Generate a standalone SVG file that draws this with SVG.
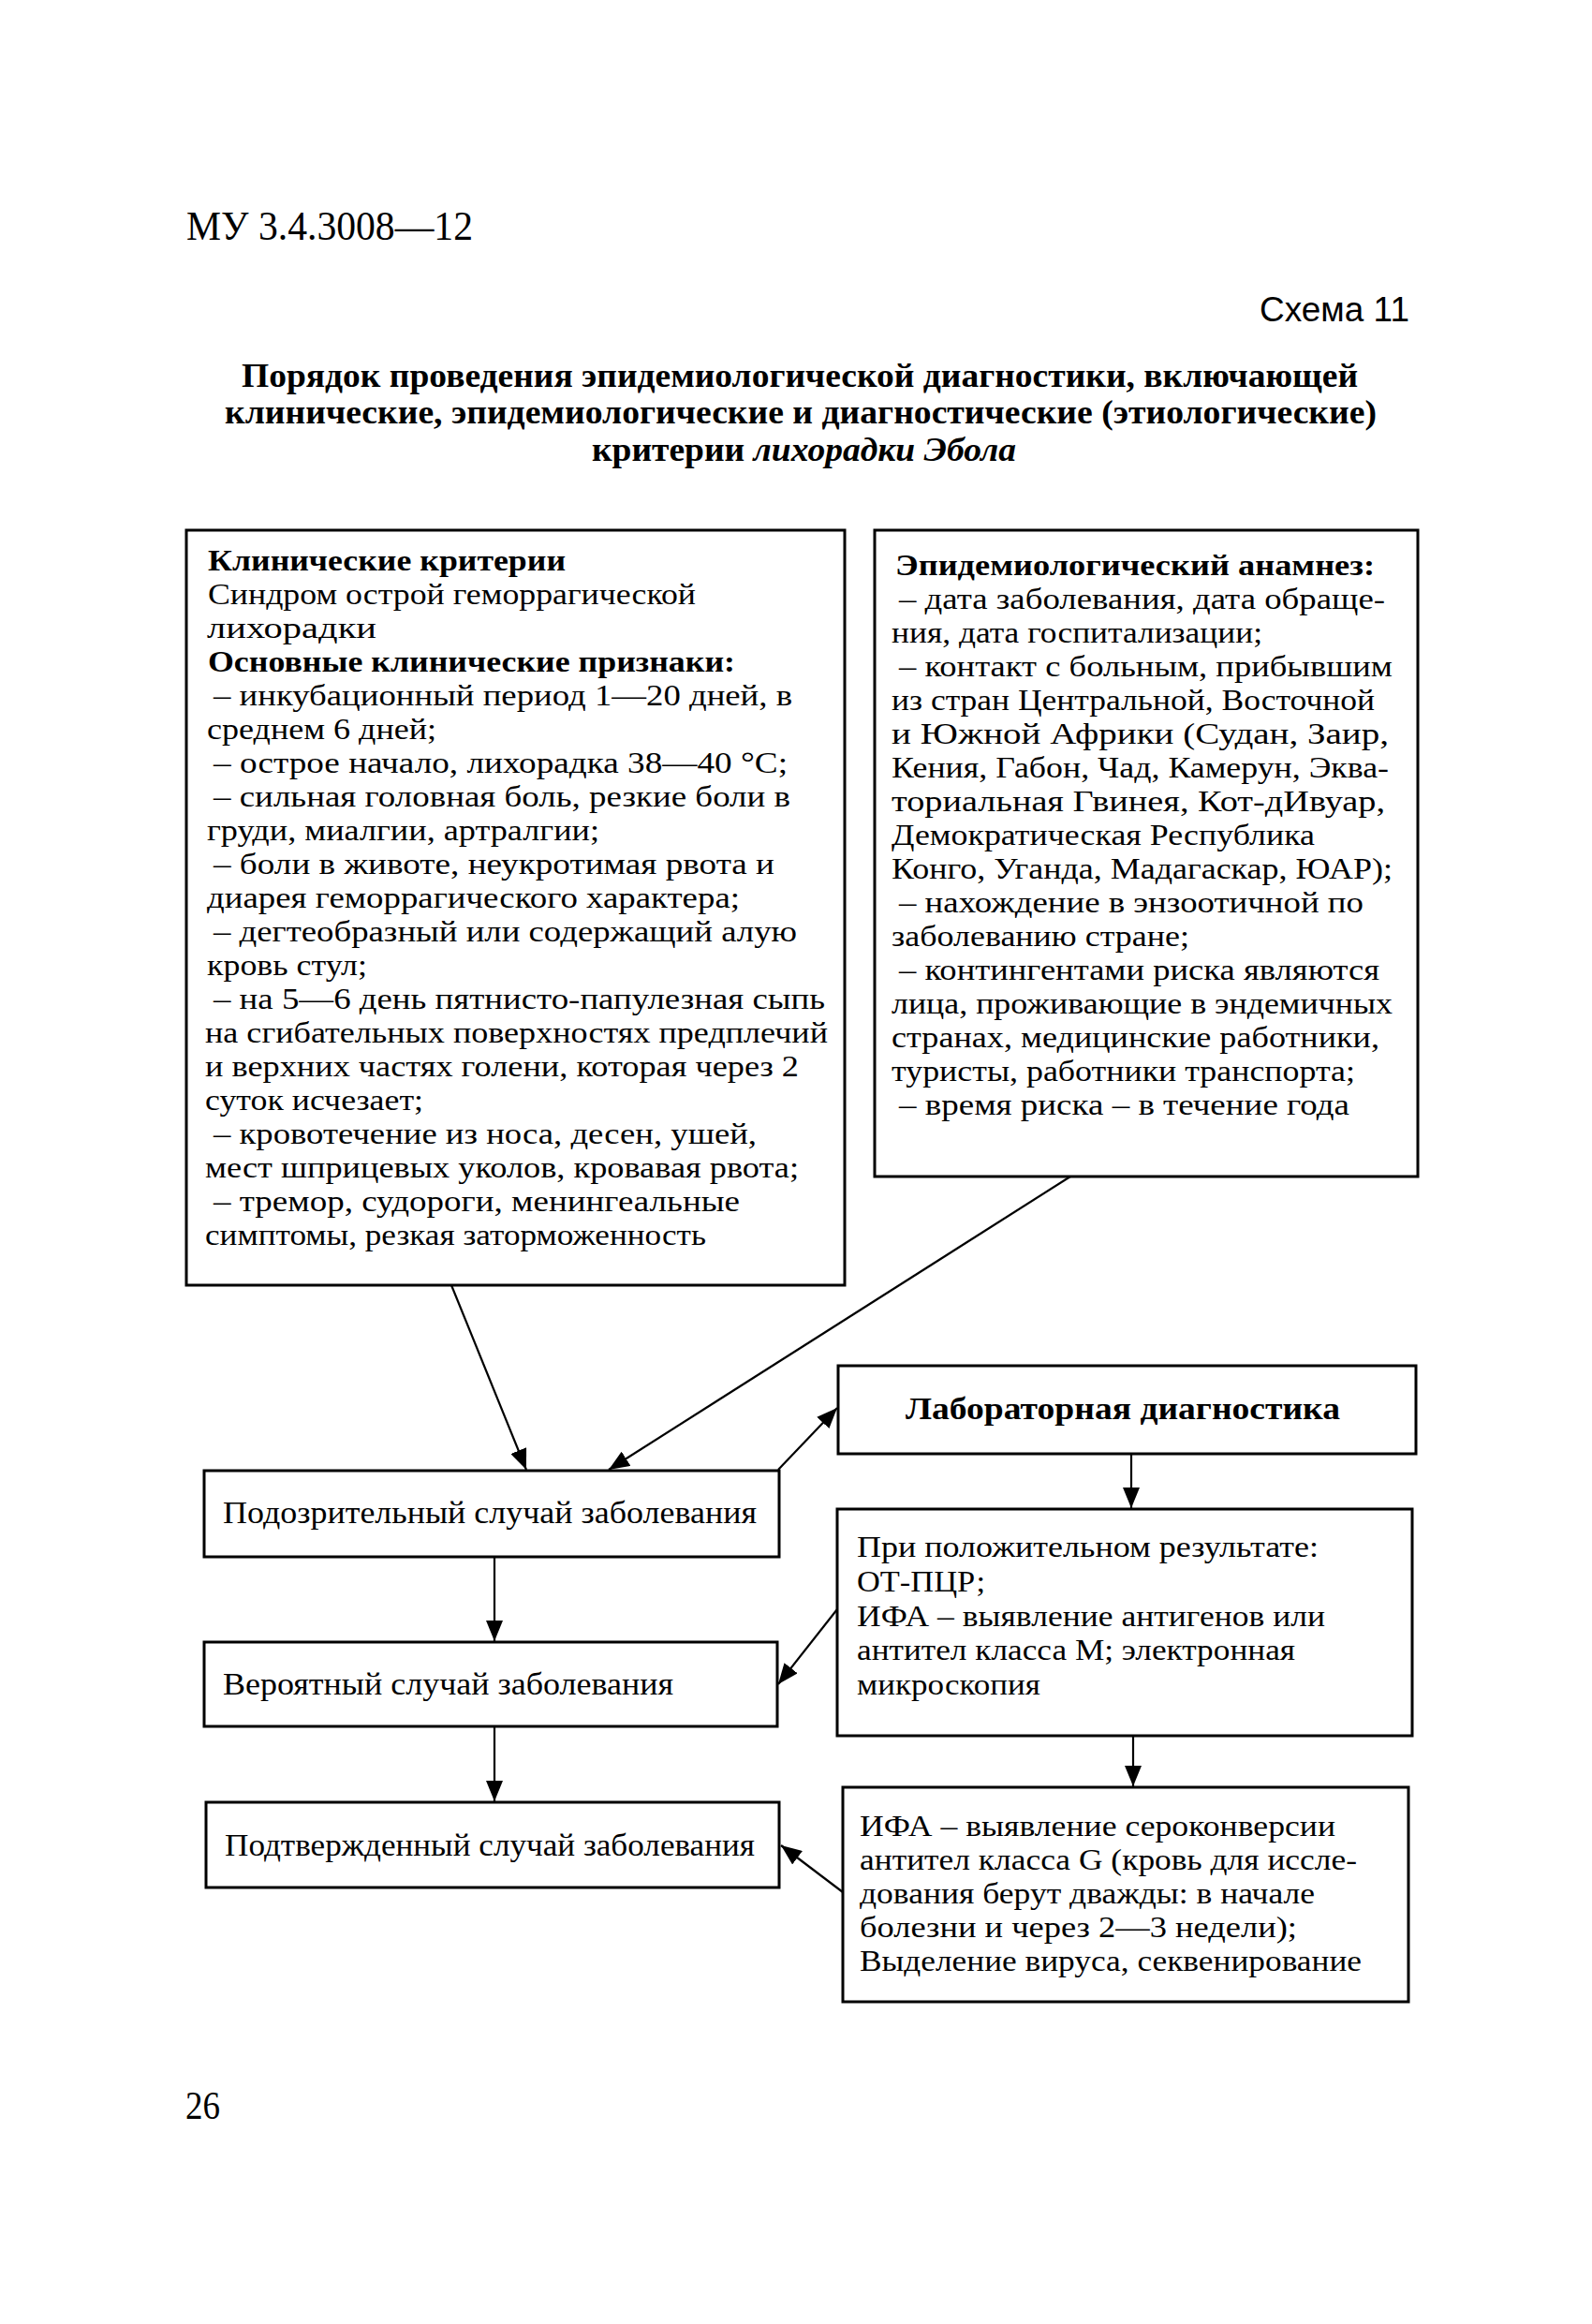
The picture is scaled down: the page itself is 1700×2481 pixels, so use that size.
<svg xmlns="http://www.w3.org/2000/svg" width="1700" height="2481" viewBox="0 0 1700 2481">
<style>
.bg{fill:#fff}
.box{fill:none;stroke:#000;stroke-width:3}
.t{font-family:"Liberation Serif","Times New Roman",serif;font-size:32px;fill:#000}
.b{font-weight:bold}
.s{font-family:"Liberation Sans",Arial,sans-serif;font-size:37px;fill:#000}
.c{fill:none;stroke:#000;stroke-width:2.2}
</style>
<defs>
<marker id="ah" viewBox="0 0 22 18" refX="22" refY="9" markerWidth="22" markerHeight="18" orient="auto" markerUnits="userSpaceOnUse"><path d="M0,0 L22,9 L0,18 z" fill="#000"/></marker>
</defs>
<rect class="bg" x="0" y="0" width="1700" height="2481"/>
<g id="header">
<text class="t" x="199" y="256" style="font-size:44px" textLength="306" lengthAdjust="spacingAndGlyphs">МУ 3.4.3008—12</text>
<text class="s" x="1345" y="343" textLength="160" lengthAdjust="spacingAndGlyphs">Схема 11</text>
<text class="t b" x="258" y="413" style="font-size:36px" textLength="1192" lengthAdjust="spacingAndGlyphs">Порядок проведения эпидемиологической диагностики, включающей</text>
<text class="t b" x="240" y="452" style="font-size:36px" textLength="1230" lengthAdjust="spacingAndGlyphs">клинические, эпидемиологические и диагностические (этиологические)</text>
<text class="t b" x="632" y="492" style="font-size:36px" textLength="453" lengthAdjust="spacingAndGlyphs">критерии <tspan font-style="italic">лихорадки Эбола</tspan></text>
<text class="t" x="198" y="2262" style="font-size:42px" textLength="37" lengthAdjust="spacingAndGlyphs">26</text>
</g>
<g id="clinical">
<rect class="box" x="199" y="566" width="703" height="806"/>
<text class="t b" x="222" y="609" textLength="382" lengthAdjust="spacingAndGlyphs">Клинические критерии</text>
<text class="t" x="222" y="645" textLength="521" lengthAdjust="spacingAndGlyphs">Синдром острой геморрагической</text>
<text class="t" x="221" y="681" textLength="181" lengthAdjust="spacingAndGlyphs">лихорадки</text>
<text class="t b" x="222" y="717" textLength="563" lengthAdjust="spacingAndGlyphs">Основные клинические признаки:</text>
<text class="t" x="228" y="753" textLength="618" lengthAdjust="spacingAndGlyphs">– инкубационный период 1—20 дней, в</text>
<text class="t" x="221" y="789" textLength="245" lengthAdjust="spacingAndGlyphs">среднем 6 дней;</text>
<text class="t" x="228" y="825" textLength="613" lengthAdjust="spacingAndGlyphs">– острое начало, лихорадка 38—40 °С;</text>
<text class="t" x="228" y="861" textLength="616" lengthAdjust="spacingAndGlyphs">– сильная головная боль, резкие боли в</text>
<text class="t" x="221" y="897" textLength="419" lengthAdjust="spacingAndGlyphs">груди, миалгии, артралгии;</text>
<text class="t" x="228" y="933" textLength="599" lengthAdjust="spacingAndGlyphs">– боли в животе, неукротимая рвота и</text>
<text class="t" x="221" y="969" textLength="569" lengthAdjust="spacingAndGlyphs">диарея геморрагического характера;</text>
<text class="t" x="228" y="1005" textLength="623" lengthAdjust="spacingAndGlyphs">– дегтеобразный или содержащий алую</text>
<text class="t" x="221" y="1041" textLength="171" lengthAdjust="spacingAndGlyphs">кровь стул;</text>
<text class="t" x="228" y="1077" textLength="653" lengthAdjust="spacingAndGlyphs">– на 5—6 день пятнисто-папулезная сыпь</text>
<text class="t" x="219" y="1113" textLength="665" lengthAdjust="spacingAndGlyphs">на сгибательных поверхностях предплечий</text>
<text class="t" x="219" y="1149" textLength="634" lengthAdjust="spacingAndGlyphs">и верхних частях голени, которая через 2</text>
<text class="t" x="219" y="1185" textLength="233" lengthAdjust="spacingAndGlyphs">суток исчезает;</text>
<text class="t" x="228" y="1221" textLength="580" lengthAdjust="spacingAndGlyphs">– кровотечение из носа, десен, ушей,</text>
<text class="t" x="219" y="1257" textLength="634" lengthAdjust="spacingAndGlyphs">мест шприцевых уколов, кровавая рвота;</text>
<text class="t" x="228" y="1293" textLength="562" lengthAdjust="spacingAndGlyphs">– тремор, судороги, менингеальные</text>
<text class="t" x="219" y="1329" textLength="535" lengthAdjust="spacingAndGlyphs">симптомы, резкая заторможенность</text>
</g>
<g id="epid">
<rect class="box" x="934" y="566" width="580" height="690"/>
<text class="t b" x="956" y="614" textLength="512" lengthAdjust="spacingAndGlyphs">Эпидемиологический анамнез:</text>
<text class="t" x="960" y="650" textLength="519" lengthAdjust="spacingAndGlyphs">– дата заболевания, дата обраще-</text>
<text class="t" x="952" y="686" textLength="396" lengthAdjust="spacingAndGlyphs">ния, дата госпитализации;</text>
<text class="t" x="960" y="722" textLength="527" lengthAdjust="spacingAndGlyphs">– контакт с больным, прибывшим</text>
<text class="t" x="952" y="758" textLength="516" lengthAdjust="spacingAndGlyphs">из стран Центральной, Восточной</text>
<text class="t" x="952" y="794" textLength="531" lengthAdjust="spacingAndGlyphs">и Южной Африки (Судан, Заир,</text>
<text class="t" x="952" y="830" textLength="531" lengthAdjust="spacingAndGlyphs">Кения, Габон, Чад, Камерун, Эква-</text>
<text class="t" x="952" y="866" textLength="527" lengthAdjust="spacingAndGlyphs">ториальная Гвинея, Кот-дИвуар,</text>
<text class="t" x="952" y="902" textLength="452" lengthAdjust="spacingAndGlyphs">Демократическая Республика</text>
<text class="t" x="952" y="938" textLength="535" lengthAdjust="spacingAndGlyphs">Конго, Уганда, Мадагаскар, ЮАР);</text>
<text class="t" x="960" y="974" textLength="496" lengthAdjust="spacingAndGlyphs">– нахождение в энзоотичной по</text>
<text class="t" x="952" y="1010" textLength="318" lengthAdjust="spacingAndGlyphs">заболеванию стране;</text>
<text class="t" x="960" y="1046" textLength="513" lengthAdjust="spacingAndGlyphs">– контингентами риска являются</text>
<text class="t" x="952" y="1082" textLength="535" lengthAdjust="spacingAndGlyphs">лица, проживающие в эндемичных</text>
<text class="t" x="952" y="1118" textLength="521" lengthAdjust="spacingAndGlyphs">странах, медицинские работники,</text>
<text class="t" x="952" y="1154" textLength="495" lengthAdjust="spacingAndGlyphs">туристы, работники транспорта;</text>
<text class="t" x="960" y="1190" textLength="481" lengthAdjust="spacingAndGlyphs">– время риска – в течение года</text>
</g>
<g id="suspect">
<rect class="box" x="218" y="1570" width="614" height="92"/>
<text class="t" x="238" y="1626" style="font-size:34px" textLength="570" lengthAdjust="spacingAndGlyphs">Подозрительный случай заболевания</text>
</g>
<g id="probable">
<rect class="box" x="218" y="1753" width="612" height="90"/>
<text class="t" x="238" y="1809" style="font-size:34px" textLength="481" lengthAdjust="spacingAndGlyphs">Вероятный случай заболевания</text>
</g>
<g id="confirmed">
<rect class="box" x="220" y="1924" width="612" height="91"/>
<text class="t" x="240" y="1981" style="font-size:34px" textLength="566" lengthAdjust="spacingAndGlyphs">Подтвержденный случай заболевания</text>
</g>
<g id="lab">
<rect class="box" x="895" y="1458" width="617" height="94"/>
<text class="t b" x="967" y="1515" style="font-size:34px" textLength="464" lengthAdjust="spacingAndGlyphs">Лабораторная диагностика</text>
</g>
<g id="lab-positive">
<rect class="box" x="894" y="1611" width="614" height="242"/>
<text class="t" x="915" y="1662" textLength="493" lengthAdjust="spacingAndGlyphs">При положительном результате:</text>
<text class="t" x="915" y="1699" textLength="137" lengthAdjust="spacingAndGlyphs">ОТ-ПЦР;</text>
<text class="t" x="915" y="1736" textLength="500" lengthAdjust="spacingAndGlyphs">ИФА – выявление антигенов или</text>
<text class="t" x="915" y="1772" textLength="468" lengthAdjust="spacingAndGlyphs">антител класса М; электронная</text>
<text class="t" x="915" y="1809" textLength="196" lengthAdjust="spacingAndGlyphs">микроскопия</text>
</g>
<g id="lab-sero">
<rect class="box" x="900" y="1908" width="604" height="229"/>
<text class="t" x="918" y="1960" textLength="508" lengthAdjust="spacingAndGlyphs">ИФА – выявление сероконверсии</text>
<text class="t" x="918" y="1996" textLength="531" lengthAdjust="spacingAndGlyphs">антител класса G (кровь для иссле-</text>
<text class="t" x="918" y="2032" textLength="486" lengthAdjust="spacingAndGlyphs">дования берут дважды: в начале</text>
<text class="t" x="918" y="2068" textLength="467" lengthAdjust="spacingAndGlyphs">болезни и через 2—3 недели);</text>
<text class="t" x="918" y="2104" textLength="536" lengthAdjust="spacingAndGlyphs">Выделение вируса, секвенирование</text>
</g>
<g id="connectors">
<line class="c" x1="482" y1="1372" x2="562" y2="1569" marker-end="url(#ah)"/>
<line class="c" x1="1143" y1="1256" x2="650" y2="1569" marker-end="url(#ah)"/>
<line class="c" x1="831" y1="1569" x2="894" y2="1503" marker-end="url(#ah)"/>
<line class="c" x1="528" y1="1662" x2="528" y2="1752" marker-end="url(#ah)"/>
<line class="c" x1="528" y1="1843" x2="528" y2="1923" marker-end="url(#ah)"/>
<line class="c" x1="1208" y1="1552" x2="1208" y2="1610" marker-end="url(#ah)"/>
<line class="c" x1="1210" y1="1853" x2="1210" y2="1907" marker-end="url(#ah)"/>
<line class="c" x1="894" y1="1718" x2="831" y2="1798" marker-end="url(#ah)"/>
<line class="c" x1="900" y1="2020" x2="834" y2="1970" marker-end="url(#ah)"/>
</g>
</svg>
